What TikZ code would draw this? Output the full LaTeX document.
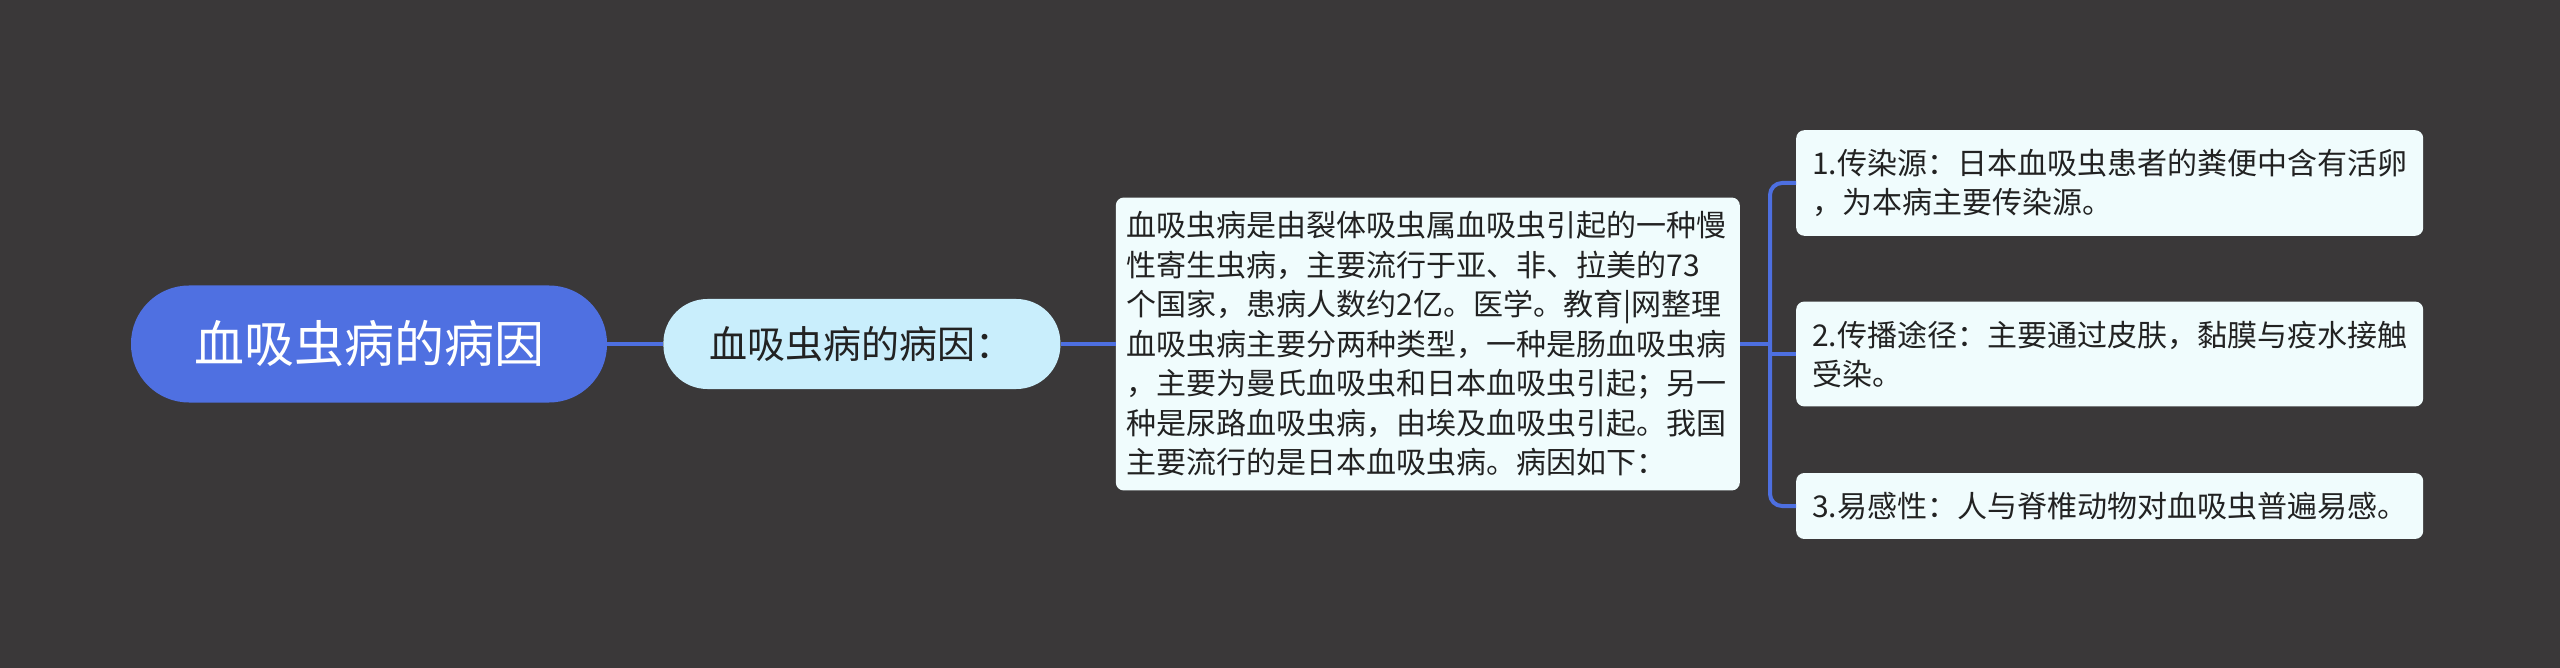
\documentclass[tikz,border=0pt]{standalone}
\usepackage{fontspec}
\newfontfamily\cjk{Noto Sans CJK SC}
\usepackage{tikz}
\usetikzlibrary{positioning}

\definecolor{bgdark}{HTML}{3A3839}
\definecolor{linkblue}{HTML}{4D6FE0}
\definecolor{rootblue}{HTML}{4F70E1}
\definecolor{subfill}{HTML}{C9EEFC}
\definecolor{leaffill}{HTML}{F0FCFD}
\definecolor{inkdark}{HTML}{222222}

\begin{document}
\begin{tikzpicture}[x=1pt, y=-1pt, node distance=56pt,
    root/.style={fill=rootblue, text=white, rounded corners=58pt,
        minimum width=476pt, minimum height=117pt, inner sep=0pt,
        font=\cjk\fontsize{50}{58}\selectfont},
    subtopic/.style={fill=subfill, text=inkdark, rounded corners=44pt,
        minimum width=397pt, minimum height=90pt, inner sep=0pt,
        font=\cjk\fontsize{38}{44}\selectfont},
    textbox/.style={fill=leaffill, text=inkdark, rounded corners=8pt,
        align=left, text width=602pt, inner xsep=11pt, inner ysep=14pt,
        font=\cjk\fontsize{30}{39.5}\selectfont},
    leaf/.style={fill=leaffill, text=inkdark, rounded corners=8pt,
        align=left, inner xsep=16pt, inner ysep=19pt,
        font=\cjk\fontsize{30}{39}\selectfont},
    link/.style={draw=linkblue, line width=4pt}]
    \useasboundingbox[fill=bgdark] (0,0) rectangle (2560,668);

    \node (root_topic) [root] at (369,344) {血吸虫病的病因};
    \node (cause_head) [subtopic, right=of root_topic] {血吸虫病的病因：};
    \node (cause_text) [textbox, right=55pt of cause_head] {血吸虫病是由裂体吸虫属血吸虫引起的一种慢\\性寄生虫病，主要流行于亚、非、拉美的73\\个国家，患病人数约2亿。医学。教育|网整理\\血吸虫病主要分两种类型，一种是肠血吸虫病\\，主要为曼氏血吸虫和日本血吸虫引起；另一\\种是尿路血吸虫病，由埃及血吸虫引起。我国\\主要流行的是日本血吸虫病。病因如下：};
    \node (source) [leaf, right=of cause_text, yshift=161pt] {1.传染源：日本血吸虫患者的粪便中含有活卵\\，为本病主要传染源。};
    \node (route) [leaf, right=of cause_text, yshift=-10pt] {2.传播途径：主要通过皮肤，黏膜与疫水接触\\受染。};
    \node (suscept) [leaf, right=of cause_text, yshift=-162pt] {3.易感性：人与脊椎动物对血吸虫普遍易感。};

    \coordinate (fork) at ([xshift=30pt]cause_text.east);

    \begin{scope}[on background layer/.try]
    \draw[link] (root_topic.east) -- (cause_head.west);
    \draw[link] (cause_head.east) -- (cause_text.west);
    \draw[link] (cause_text.east) -- (fork);
    \draw[link, rounded corners=12pt] (source.west) -| (fork) |- (suscept.west);
    \draw[link] (route.west) -- (route.west -| fork);
    \end{scope}
\end{tikzpicture}
\end{document}
